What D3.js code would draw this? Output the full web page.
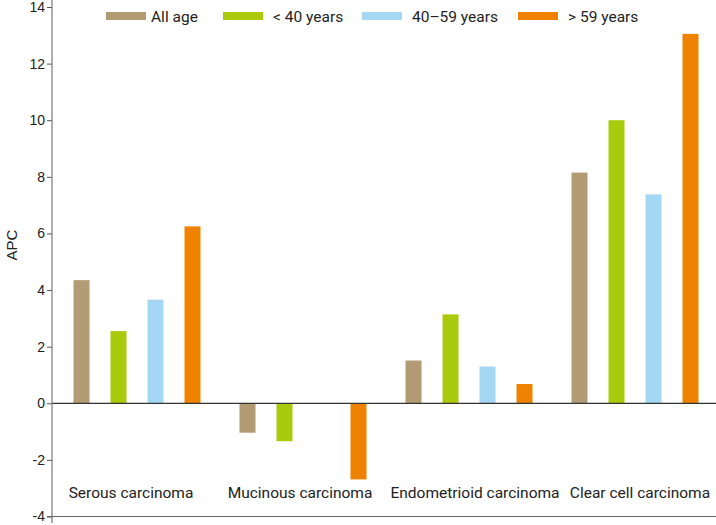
<!DOCTYPE html>
<html><head><meta charset="utf-8">
<script src="https://cdn.jsdelivr.net/npm/d3@7"></script>
<style>body{margin:0;background:#fff}svg{display:block}</style>
</head><body>
<script>
const categories = ["Serous carcinoma","Mucinous carcinoma","Endometrioid carcinoma","Clear cell carcinoma"];
const seriesNames = ["All age","< 40 years","40\u201359 years","> 59 years"];
const allAge   = [4.35, -1.04, 1.51, 8.15];
const under40  = [2.55, -1.34, 3.14, 10.0];
const age40to59 = [3.66, null, 1.30, 7.38];
const over59   = [6.25, -2.69, 0.68, 13.05];
const yTicks = [-4,-2,0,2,4,6,8,10,12,14];
const colors = ["#b39b74","#aacb0b","#a3d7f4","#ef8300"];

const series = [allAge, under40, age40to59, over59];
const W = 716, H = 525;
const svg = d3.select("body").append("svg").attr("width", W).attr("height", H);
const font = "Roboto, 'Liberation Sans', Arial, sans-serif";

const y = d3.scaleLinear().domain([-4, 14]).range([516.5, 7]);
const x0 = d3.scaleBand().domain(categories).range([54, 718]).padding(0);
const x1 = d3.scaleBand().domain(d3.range(4)).range([0, x0.bandwidth()])
  .paddingInner(0.5676).paddingOuter(0.527);

// bars
categories.forEach((c, ci) => {
  series.forEach((s, si) => {
    const v = s[ci];
    if (v === null) return;
    svg.append("rect")
      .attr("x", x0(c) + x1(si))
      .attr("width", x1.bandwidth())
      .attr("y", y(Math.max(0, v)))
      .attr("height", Math.abs(y(v) - y(0)))
      .attr("fill", colors[si]);
  });
});

// zero line
svg.append("line").attr("x1", 52).attr("x2", 716).attr("y1", y(0)).attr("y2", y(0))
  .attr("stroke", "#333").attr("stroke-width", 1.2);
// bottom line
svg.append("line").attr("x1", 47).attr("x2", 716).attr("y1", y(-4)).attr("y2", y(-4))
  .attr("stroke", "#666").attr("stroke-width", 1.2);

// y axis
const yAxis = d3.axisLeft(y).tickValues(yTicks).tickSize(5).tickSizeOuter(0).tickFormat(d => String(d));
const ga = svg.append("g").attr("transform", "translate(52,0)").call(yAxis);
ga.select(".domain").remove();
svg.append("line").attr("x1", 52).attr("x2", 52).attr("y1", 0).attr("y2", 523)
  .attr("stroke", "#777").attr("stroke-width", 1.2);
ga.selectAll(".tick line").attr("stroke", "#555");
ga.selectAll(".tick text").attr("font-family", "'Liberation Sans', Arial, sans-serif")
  .attr("font-size", 14).attr("fill", "#222").attr("x", -7);

svg.append("text").attr("transform", "translate(17,245) rotate(-90)")
  .attr("text-anchor", "middle").attr("font-family", "'Liberation Sans', Arial, sans-serif")
  .attr("font-size", 15).attr("fill", "#222").text("APC");

// category labels
const labelDx = [-3, 0, 9, 8];
categories.forEach((c, ci) => {
  svg.append("text").attr("x", x0(c) + x0.bandwidth() / 2 + labelDx[ci] - 3)
    .attr("y", 498).attr("text-anchor", "middle")
    .attr("font-family", font).attr("font-size", 15.5).attr("fill", "#222").text(c);
});

// legend
const legX = [106, 223, 362, 518];
seriesNames.forEach((n, i) => {
  svg.append("rect").attr("x", legX[i]).attr("y", 12).attr("width", 40).attr("height", 8).attr("fill", colors[i]);
  svg.append("text").attr("x", legX[i] + (i === 0 ? 45 : 50)).attr("y", 21.5)
    .attr("font-family", font).attr("font-size", 15.5).attr("fill", "#222").text(n);
});
</script>
</body></html>
